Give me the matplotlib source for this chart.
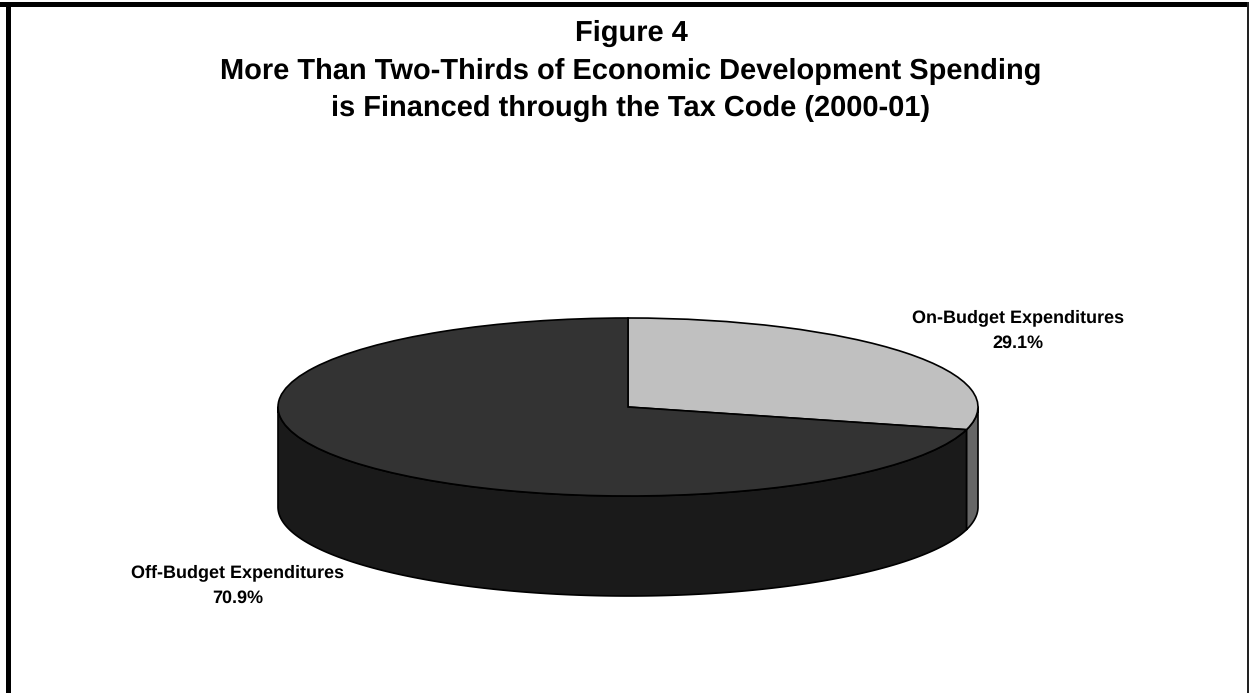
import matplotlib
matplotlib.use('Agg')
import matplotlib.pyplot as plt
import numpy as np

title_lines = ['Figure 4',
               'More Than Two-Thirds of Economic Development Spending',
               'is Financed through the Tax Code (2000-01)']
labels = ['On-Budget Expenditures', 'Off-Budget Expenditures']
shares = [29.1, 70.9]
top_colors = ['#c0c0c0', '#333333']
side_colors = ['#666666', '#1a1a1a']

W, H = 1249, 693
CX, CY = 628, 407   # centre of the top face, pixels
RX, RY = 350, 89    # radii of the top face, pixels
DEPTH = 100         # thickness of the disc, pixels

plt.rcParams['font.family'] = ['Liberation Sans', 'DejaVu Sans']
plt.rcParams['text.hinting'] = 'no_hinting'
plt.rcParams['text.hinting_factor'] = 1
fig = plt.figure(figsize=(W / 100, H / 100), dpi=100, facecolor='white')

# axes whose units are pie radii, so the unit circle comes out as the flattened ellipse
ax = fig.add_axes([0, 0, 1, 1])
ax.pie(shares, colors=top_colors, startangle=90, counterclock=False, radius=1,
       wedgeprops=dict(edgecolor='black', linewidth=1.2, zorder=3))
ax.set_aspect('auto')
ax.set_xlim(-CX / RX, (W - CX) / RX)
ax.set_ylim((CY - H) / RY, CY / RY)
ax.axis('off')

# side wall: only the part of each slice on the front half of the disc is visible
depth = DEPTH / RY
start = 0.0
for share, color in zip(shares, side_colors):
    end = start + share / sum(shares) * 2 * np.pi
    lo, hi = max(start, np.pi / 2), min(end, 3 * np.pi / 2)
    if hi > lo:
        a = np.linspace(lo, hi, 200)
        x, y = np.sin(a), np.cos(a)
        ax.fill(np.r_[x, x[::-1]], np.r_[y, y[::-1] - depth], facecolor=color,
                edgecolor='black', linewidth=1.2, zorder=2, joinstyle='round')
    start = end

# slice labels, placed by the baseline of their last line
ax.text((1018 - CX) / RX, (CY - 348) / RY, '%s\n%.1f%%' % (labels[0], shares[0]),
        ha='center', va='baseline', fontsize=12.9, fontweight='bold', linespacing=1.67)
ax.text((237.5 - CX) / RX, (CY - 603) / RY, '%s\n%.1f%%' % (labels[1], shares[1]),
        ha='center', va='baseline', fontsize=12.9, fontweight='bold', linespacing=1.67)

fig.text(631 / W, 1 - 20 / H, '\n'.join(title_lines), ha='center', va='top',
         fontsize=20.6, fontweight='bold', linespacing=1.49)

# frame: heavy top and left rules, thin one on the right
fig.add_artist(plt.Rectangle((0, 1 - 7 / H), 1, 5 / H, transform=fig.transFigure, color='black', lw=0))
fig.add_artist(plt.Rectangle((5.5 / W, 0), 5.5 / W, 1 - 2 / H, transform=fig.transFigure, color='black', lw=0))
fig.add_artist(plt.Rectangle((1 - 2 / W, 0), 2 / W, 1 - 2 / H, transform=fig.transFigure, color='#222222', lw=0))

fig.savefig('out.png', dpi=100)
